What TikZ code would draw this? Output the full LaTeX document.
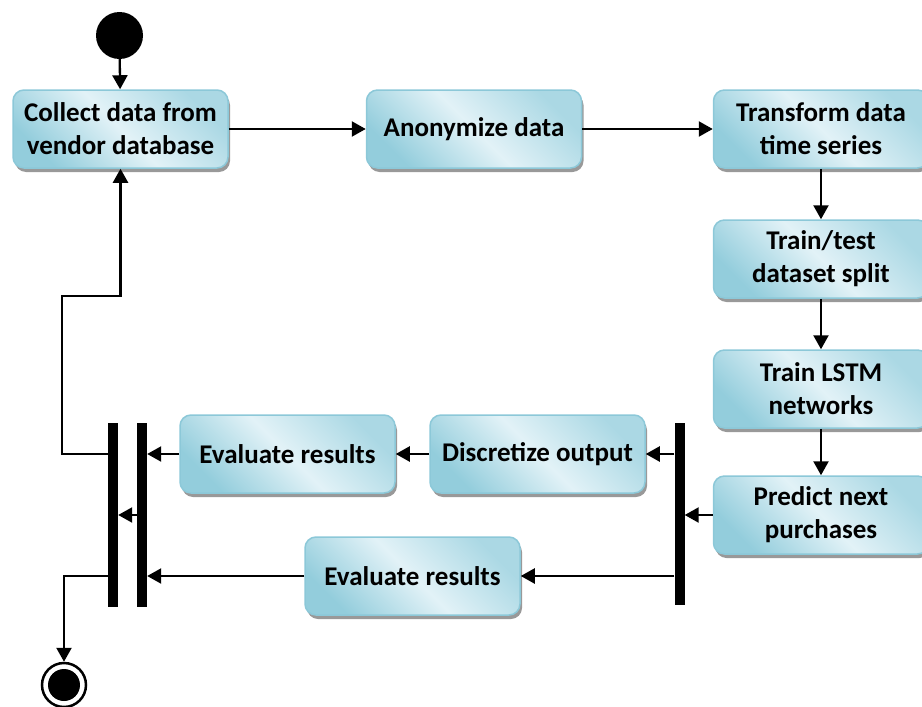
\documentclass[tikz,border=0pt]{standalone}
\usepackage{fontspec}
\setmainfont{Carlito}
\usetikzlibrary{arrows.meta,shadows}
\definecolor{boxdark}{HTML}{93CDDC}
\definecolor{boxlight}{HTML}{E2F2F7}
\definecolor{boxborder}{HTML}{8CC8D8}
\tikzset{
  act/.style={rectangle, rounded corners=11pt, draw=boxborder, line width=1.5pt,
    top color=boxdark, bottom color=boxdark!70!boxlight, middle color=boxlight, shading angle=135,
    minimum width=215pt, minimum height=78pt, align=center, inner sep=2pt,
    font=\fontsize{27}{33}\selectfont\bfseries,
    drop shadow={shadow xshift=2pt, shadow yshift=-4pt, fill=black!40, opacity=1}},
  bar/.style={rectangle, fill=black, draw=none, minimum width=10pt, inner sep=0pt},
  arr/.style={line width=2.3pt, -{Triangle[length=14pt,width=15pt]}},
}
\begin{document}
\begin{tikzpicture}[x=1pt,y=-1pt]
\useasboundingbox (0,0) rectangle (922,707);
\node[circle, fill=black, minimum size=47pt, inner sep=0pt] (start) at (119.5,35.5) {};
\node[act] (collect) at (120.5,129) {Collect data from\\vendor database};
\node[act] (anon) at (474,129) {Anonymize data};
\node[act] (trans) at (821,129) {Transform data\\time series};
\node[act] (split) at (821,259) {Train/test\\dataset split};
\node[act] (lstm) at (821,389) {Train LSTM\\networks};
\node[act] (pred) at (821,515) {Predict next\\purchases};
\node[bar, minimum height=182pt] (fork) at (679.5,514) {};
\node[act] (disc) at (537.5,454) {Discretize output};
\node[act] (ev1) at (287.5,454) {Evaluate results};
\node[act] (ev2) at (412.5,576) {Evaluate results};
\node[bar, minimum height=184pt] (join2) at (142,515) {};
\node[bar, minimum height=184pt] (join1) at (113,515) {};
\node[circle, draw=black, line width=2.5pt, minimum size=44pt, inner sep=0pt] (final) at (64,685) {};
\node[circle, fill=black, minimum size=32pt, inner sep=0pt] (finalin) at (64,685) {};
\coordinate (loop) at (62,296);

\draw[arr] (start) -- (collect);
\draw[arr] (collect.east) -- (anon.west);
\draw[arr] (anon.east) -- (trans.west);
\draw[arr] (trans) -- (split);
\draw[arr] (split) -- (lstm);
\draw[arr] (lstm) -- (pred);
\draw[arr] (pred.west) -- (fork.east |- pred.west);
\draw[arr] (fork.west |- disc.east) -- (disc.east);
\draw[arr] (disc.west) -- (ev1.east);
\draw[arr] (ev1.west) -- (join2.east |- ev1.west);
\draw[arr] (fork.west |- ev2.east) -- (ev2.east);
\draw[arr] (ev2.west) -- (join2.east |- ev2.west);
\draw[arr] (join2.west |- pred.west) -- (join1.east |- pred.west);
\draw[arr] (join1.west |- ev1.west) -| (loop) -| (collect.south);
\draw[arr] (join1.west |- ev2.west) -| (final.north);
\end{tikzpicture}
\end{document}
